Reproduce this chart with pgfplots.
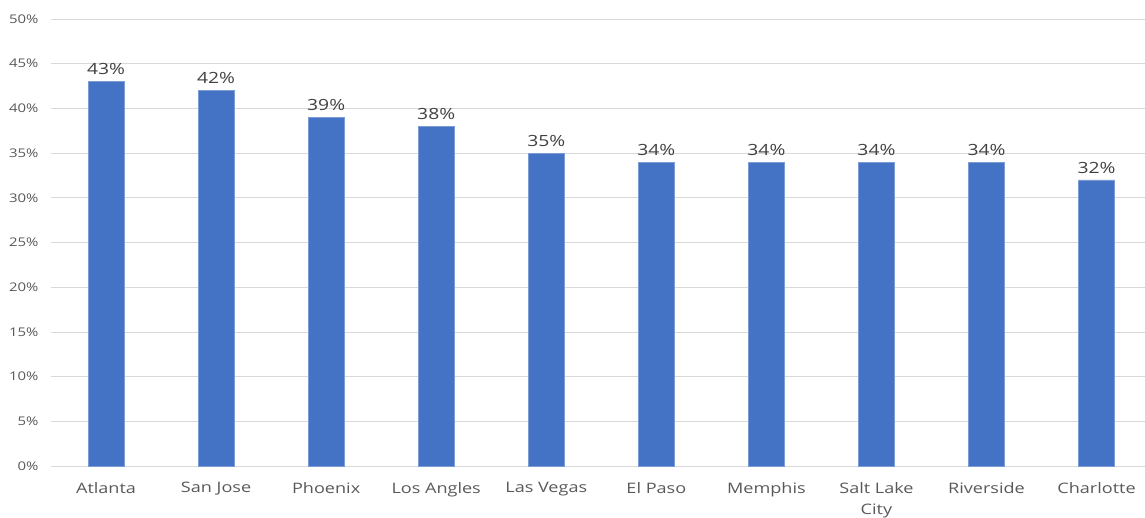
\documentclass[border=0pt]{standalone}
\usepackage{fontspec}
\setmainfont{Open Sans}[FakeStretch=1.25]
\usepackage{pgfplots}
\pgfplotsset{compat=1.18}
\definecolor{barblue}{HTML}{4472C4}
\definecolor{ticktext}{HTML}{595959}
\definecolor{labeltext}{HTML}{404040}
\definecolor{gridgray}{HTML}{D9D9D9}
\begin{document}
\begin{tikzpicture}[x=1bp,y=1bp]
\begin{axis}[
  at={(0,0)}, anchor=south west,
  scale only axis,
  width=1094bp, height=447bp,
  ymin=0, ymax=50,
  xmin=-0.5, xmax=9.44,
  ytick={0,5,...,50},
  yticklabel={\pgfmathprintnumber{\tick}\%},
  /pgf/number format/assume math mode=true,
  ymajorgrids,
  grid style={gridgray, line width=0.8pt},
  axis line style={draw=none},
  major tick length=0pt,
  xtick={0,...,9},
  xticklabels={Atlanta,San Jose,Phoenix,Los Angles,Las Vegas,El Paso,Memphis,{Salt Lake\\City},Riverside,Charlotte},
  xticklabel style={font=\fontsize{14.5}{21}\selectfont, text=ticktext, align=center, anchor=north, yshift=-13bp},
  yticklabel style={font=\fontsize{12}{14}\selectfont, text=ticktext, anchor=east, xshift=-9bp},
  ybar, bar width=36bp,
  nodes near coords={\pgfmathprintnumber{\pgfplotspointmeta}\%},
  nodes near coords style={font=\fontsize{15.5}{17}\selectfont, text=labeltext, /pgf/number format/assume math mode=true, yshift=3bp},
  clip=false,
]
\addplot[fill=barblue, draw=barblue!70!white, line width=0.4pt] coordinates {
(0,43) (1,42) (2,39) (3,38) (4,35) (5,34) (6,34) (7,34) (8,34) (9,32)
};
\end{axis}
\pgfresetboundingbox
\path (-51bp,-52bp) rectangle (1094bp,466bp);
\end{tikzpicture}
\end{document}
